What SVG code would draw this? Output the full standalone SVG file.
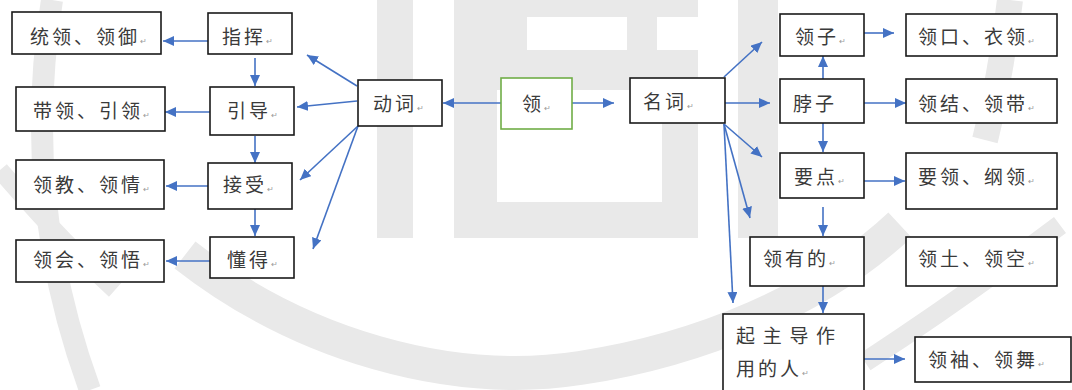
<svg xmlns="http://www.w3.org/2000/svg" width="1072" height="390" viewBox="0 0 1072 390">
<defs>
<style>
.bx{fill:#fff;stroke:#1a1a1a;stroke-width:1.6}
.gb{fill:#fff;stroke:#70AD47;stroke-width:1.6}
.t{font-family:"Noto Sans CJK SC","Noto Sans",sans-serif;font-size:19px;fill:#3a3a3a;letter-spacing:3px}
.pm{font-size:8px;fill:#9a9a9a;letter-spacing:0}
.c line{stroke:#4472C4;stroke-width:1.6;marker-end:url(#ah)}
.wm{fill:#e9e9e9}
.wl{fill:none;stroke:#e9e9e9}
</style>
<marker id="ah" markerUnits="userSpaceOnUse" markerWidth="11" markerHeight="10" refX="11" refY="5" orient="auto">
<path d="M0,0 L11,5 L0,10 z" fill="#4472C4"/>
</marker>
</defs>
<rect width="1072" height="390" fill="#fff"/>
<g id="watermark">
<rect class="wm" x="377" y="0" width="36" height="238"/>
<rect class="wm" x="454" y="0" width="244" height="17"/>
<rect class="wm" x="454" y="17" width="73" height="33"/>
<rect class="wm" x="627" y="17" width="30" height="33"/>
<rect class="wm" x="454" y="50" width="244" height="40"/>
<rect class="wm" x="454" y="90" width="43" height="148"/>
<rect class="wm" x="662" y="90" width="36" height="148"/>
<rect class="wm" x="454" y="202" width="244" height="36"/>
<rect class="wm" x="738" y="0" width="40" height="238"/>
<path class="wl" stroke-width="34" d="M185 255 C300 345 450 388 580 368 C700 350 820 300 900 225"/>
<path class="wl" stroke-width="22" d="M52 0 Q20 200 90 390"/>
<path class="wl" stroke-width="18" d="M0 170 Q60 240 115 290"/>
<path class="wl" stroke-width="26" d="M1010 0 Q1000 80 985 140"/>
<path class="wl" stroke-width="20" d="M865 362 Q960 300 1060 225"/>
</g>
<g id="connectors" class="c">
<line x1="208" y1="41" x2="163" y2="41"/>
<line x1="255" y1="58" x2="255" y2="86"/>
<line x1="210" y1="112" x2="165" y2="112"/>
<line x1="255" y1="136" x2="255" y2="163"/>
<line x1="208" y1="186" x2="166" y2="186"/>
<line x1="255" y1="209" x2="255" y2="236"/>
<line x1="210" y1="261" x2="166" y2="261"/>
<line x1="357" y1="86" x2="307" y2="55"/>
<line x1="357" y1="101" x2="297" y2="107"/>
<line x1="358" y1="126" x2="300" y2="180"/>
<line x1="358" y1="126" x2="313" y2="249"/>
<line x1="501" y1="103" x2="443" y2="103"/>
<line x1="572" y1="103" x2="614" y2="103"/>
<line x1="724" y1="77" x2="762" y2="42"/>
<line x1="725" y1="103" x2="770" y2="103"/>
<line x1="823" y1="79" x2="823" y2="56"/>
<line x1="864" y1="33" x2="894" y2="33"/>
<line x1="864" y1="103" x2="906" y2="103"/>
<line x1="823" y1="123" x2="823" y2="152"/>
<line x1="724" y1="124" x2="762" y2="157"/>
<line x1="724" y1="124" x2="750" y2="218"/>
<line x1="724" y1="124" x2="733" y2="303"/>
<line x1="864" y1="181" x2="905" y2="181"/>
<line x1="823" y1="207" x2="823" y2="236"/>
<line x1="823" y1="286" x2="823" y2="313"/>
<line x1="864" y1="359" x2="905" y2="359"/>
</g>
<g id="n-tongling"><rect class="bx" x="12" y="12" width="149" height="42"/><text class="t" x="30" y="44">统领、领御<tspan class="pm">↵</tspan></text></g>
<g id="n-zhihui"><rect class="bx" x="208" y="13" width="84" height="41"/><text class="t" x="222" y="44">指挥<tspan class="pm">↵</tspan></text></g>
<g id="n-dailing"><rect class="bx" x="16" y="87" width="149" height="44"/><text class="t" x="33" y="118">带领、引领<tspan class="pm">↵</tspan></text></g>
<g id="n-yindao"><rect class="bx" x="210" y="87" width="84" height="48"/><text class="t" x="227" y="118">引导<tspan class="pm">↵</tspan></text></g>
<g id="n-lingjiao"><rect class="bx" x="16" y="160" width="148" height="49"/><text class="t" x="33" y="192">领教、领情<tspan class="pm">↵</tspan></text></g>
<g id="n-jieshou"><rect class="bx" x="208" y="163" width="84" height="46"/><text class="t" x="223" y="192">接受<tspan class="pm">↵</tspan></text></g>
<g id="n-linghui"><rect class="bx" x="16" y="240" width="148" height="42"/><text class="t" x="33" y="267">领会、领悟<tspan class="pm">↵</tspan></text></g>
<g id="n-dongde"><rect class="bx" x="210" y="237" width="84" height="41"/><text class="t" x="227" y="267">懂得<tspan class="pm">↵</tspan></text></g>
<g id="n-dongci"><rect class="bx" x="358" y="80" width="84" height="46"/><text class="t" x="373" y="111">动词<tspan class="pm">↵</tspan></text></g>
<g id="n-ling"><rect class="gb" x="501" y="78" width="71" height="51"/><text class="t" x="522" y="111">领<tspan class="pm">↵</tspan></text></g>
<g id="n-mingci"><rect class="bx" x="630" y="78" width="95" height="45"/><text class="t" x="643" y="109">名词<tspan class="pm">↵</tspan></text></g>
<g id="n-lingzi"><rect class="bx" x="780" y="14" width="84" height="42"/><text class="t" x="795" y="44">领子<tspan class="pm">↵</tspan></text></g>
<g id="n-lingkou"><rect class="bx" x="906" y="14" width="151" height="42"/><text class="t" x="918" y="44">领口、衣领<tspan class="pm">↵</tspan></text></g>
<g id="n-bozi"><rect class="bx" x="780" y="79" width="84" height="44"/><text class="t" x="793" y="111">脖子</text></g>
<g id="n-lingjie"><rect class="bx" x="906" y="79" width="151" height="44"/><text class="t" x="918" y="111">领结、领带<tspan class="pm">↵</tspan></text></g>
<g id="n-yaodian"><rect class="bx" x="780" y="153" width="84" height="45"/><text class="t" x="794" y="184">要点<tspan class="pm">↵</tspan></text></g>
<g id="n-yaoling"><rect class="bx" x="906" y="153" width="151" height="56"/><text class="t" x="918" y="184">要领、纲领<tspan class="pm">↵</tspan></text></g>
<g id="n-lingyoude"><rect class="bx" x="750" y="237" width="114" height="49"/><text class="t" x="763" y="266">领有的<tspan class="pm">↵</tspan></text></g>
<g id="n-lingtu"><rect class="bx" x="906" y="237" width="151" height="49"/><text class="t" x="918" y="266">领土、领空<tspan class="pm">↵</tspan></text></g>
<g id="n-qizhudao"><rect class="bx" x="723" y="314" width="141" height="90"/><text class="t" x="736" y="343" style="letter-spacing:7.7px">起主导作</text><text class="t" x="736" y="376">用的人<tspan class="pm">↵</tspan></text></g>
<g id="n-lingxiu"><rect class="bx" x="915" y="337" width="156" height="45"/><text class="t" x="928" y="367">领袖、领舞<tspan class="pm">↵</tspan></text></g>
</svg>
